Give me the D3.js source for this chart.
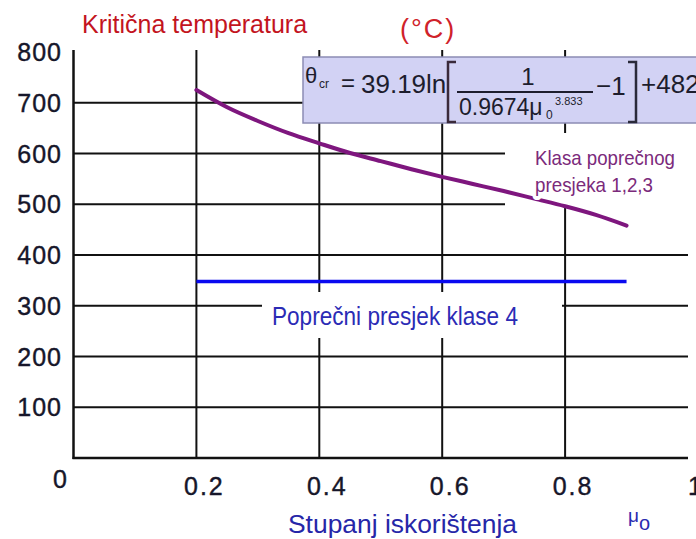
<!DOCTYPE html>
<html>
<head>
<meta charset="utf-8">
<script src="https://cdn.jsdelivr.net/npm/d3@7"></script>
<style>
  body { margin: 0; background: #fff; }
  svg text { font-family: "Liberation Sans", Arial, sans-serif; }
</style>
</head>
<body>
<svg id="chart" width="696" height="539"></svg>
<script>
// values
const muValues = [0.2, 0.25, 0.3, 0.35, 0.4, 0.45, 0.5, 0.55, 0.6, 0.65, 0.7, 0.75, 0.8, 0.85, 0.9];
const thetaClass123 = [725, 691, 664, 640, 620, 601, 585, 569, 554, 540, 526, 511, 496, 479, 458];
const muClass4 = [0.2, 0.9];
const thetaClass4 = [348, 348];
const yTicks = [100, 200, 300, 400, 500, 600, 700, 800];
const xTicks = [0, 0.2, 0.4, 0.6, 0.8, 1];
const xTickLabels = ["0", "0.2", "0.4", "0.6", "0.8", "1"];

const svg = d3.select("#chart");

const x = d3.scaleLinear().domain([0, 1]).range([73.5, 688]);
const y = d3.scaleLinear().domain([0, 800]).range([458, 52]);

const ink = "#111";

// grid
const grid = svg.append("g");
grid.selectAll(".hgrid")
  .data(yTicks.filter(v => v < 800))
  .enter()
  .append("line")
  .attr("x1", x(0))
  .attr("x2", x(1))
  .attr("y1", d => y(d))
  .attr("y2", d => y(d))
  .attr("stroke", ink)
  .attr("stroke-width", 2);

grid.selectAll(".vgrid")
  .data(xTicks.filter(v => v > 0 && v < 1))
  .enter()
  .append("line")
  .attr("x1", d => x(d))
  .attr("x2", d => x(d))
  .attr("y1", y(800) - 2)
  .attr("y2", y(0))
  .attr("stroke", ink)
  .attr("stroke-width", 2);

// axes
svg.append("line")
  .attr("x1", x(0)).attr("x2", x(0))
  .attr("y1", y(800) - 2).attr("y2", y(0) + 1)
  .attr("stroke", ink).attr("stroke-width", 2.5);
svg.append("line")
  .attr("x1", x(0) - 1).attr("x2", x(1))
  .attr("y1", y(0)).attr("y2", y(0))
  .attr("stroke", ink).attr("stroke-width", 2.5);

// white backgrounds of the in-plot labels
svg.append("rect")
  .attr("x", 505).attr("y", 133).attr("width", 191).attr("height", 73)
  .attr("fill", "#fff");
svg.append("rect")
  .attr("x", 262).attr("y", 292).attr("width", 300).attr("height", 46)
  .attr("fill", "#fff");

// formula box
const fb = svg.append("g");
fb.append("rect")
  .attr("x", 303).attr("y", 57).attr("width", 400).attr("height", 66)
  .attr("fill", "#d2d2f4").attr("stroke", "#8c8cb4").attr("stroke-width", 1.5);
const fcol = "#1d1d2d";
fb.append("text").attr("x", 305).attr("y", 83).attr("font-size", 22).attr("fill", fcol).text("θ");
fb.append("text").attr("x", 319).attr("y", 88).attr("font-size", 12).attr("fill", fcol).text("cr");
fb.append("text").attr("x", 341).attr("y", 91).attr("font-size", 24).attr("fill", fcol).text("=");
fb.append("text").attr("x", 361).attr("y", 93).attr("font-size", 26).attr("fill", fcol).text("39.19ln");
fb.append("text").attr("x", 528).attr("y", 85).attr("font-size", 24).attr("fill", fcol)
  .attr("text-anchor", "middle").text("1");
fb.append("line").attr("x1", 457).attr("x2", 593).attr("y1", 92).attr("y2", 92)
  .attr("stroke", fcol).attr("stroke-width", 2);
fb.append("text").attr("x", 459).attr("y", 115).attr("font-size", 23).attr("fill", fcol).text("0.9674μ");
fb.append("text").attr("x", 555).attr("y", 105).attr("font-size", 11).attr("fill", fcol).text("3.833");
fb.append("text").attr("x", 546).attr("y", 119).attr("font-size", 12).attr("fill", fcol).text("0");
fb.append("text").attr("x", 596).attr("y", 95).attr("font-size", 26).attr("fill", fcol).text("−1");
fb.append("text").attr("x", 641).attr("y", 93).attr("font-size", 26).attr("fill", fcol).text("+482");
const bracket = (x0, dir) => `M${x0 + dir * 8},62 H${x0} V122 H${x0 + dir * 8}`;
fb.append("path").attr("d", bracket(448, 1)).attr("fill", "none")
  .attr("stroke", "#3a2a3a").attr("stroke-width", 2.5);
fb.append("path").attr("d", bracket(636, -1)).attr("fill", "none")
  .attr("stroke", "#2a2a3a").attr("stroke-width", 2.5);

// series
const line = d3.line()
  .x(d => x(d[0]))
  .y(d => y(d[1]))
  .curve(d3.curveMonotoneX);

svg.append("path")
  .datum(muValues.map((m, i) => [m, thetaClass123[i]]))
  .attr("d", line)
  .attr("fill", "none")
  .attr("stroke", "#7e167e")
  .attr("stroke-width", 4)
  .attr("stroke-linecap", "round");

svg.append("path")
  .datum(muClass4.map((m, i) => [m, thetaClass4[i]]))
  .attr("d", line)
  .attr("fill", "none")
  .attr("stroke", "#0a0af0")
  .attr("stroke-width", 3.5);

// in-plot labels
const purple = "#7b2a7b";
svg.append("text")
  .attr("x", 535).attr("y", 165)
  .attr("font-size", 21).attr("fill", purple)
  .attr("textLength", 140).attr("lengthAdjust", "spacingAndGlyphs")
  .text("Klasa poprečnog");
svg.append("text")
  .attr("x", 535).attr("y", 192)
  .attr("font-size", 21).attr("fill", purple)
  .attr("textLength", 118).attr("lengthAdjust", "spacingAndGlyphs")
  .attr("stroke", "#fff").attr("stroke-width", 8).attr("paint-order", "stroke")
  .attr("stroke-linejoin", "round")
  .text("presjeka 1,2,3");

svg.append("text")
  .attr("x", 272).attr("y", 325)
  .attr("font-size", 25).attr("fill", "#2b2bb5")
  .attr("textLength", 246).attr("lengthAdjust", "spacingAndGlyphs")
  .text("Poprečni presjek klase 4");

// tick labels
const tickCol = "#16162a";
svg.selectAll(".ylab")
  .data(yTicks)
  .enter()
  .append("text")
  .attr("x", 62)
  .attr("y", d => y(d))
  .attr("dy", "0.36em")
  .attr("text-anchor", "end")
  .attr("font-size", 25)
  .attr("letter-spacing", 1)
  .attr("fill", tickCol)
  .attr("stroke", tickCol)
  .attr("stroke-width", 0.4)
  .text(d => d);

svg.selectAll(".xlab")
  .data(xTicks)
  .enter()
  .append("text")
  .attr("x", d => (d === 0 ? 61 : x(d) + 8))
  .attr("y", d => (d === 0 ? 488 : 495))
  .attr("text-anchor", "middle")
  .attr("font-size", 25)
  .attr("letter-spacing", 2)
  .attr("fill", tickCol)
  .attr("stroke", tickCol)
  .attr("stroke-width", 0.4)
  .text((d, i) => xTickLabels[i]);

// titles
svg.append("text")
  .attr("x", 82).attr("y", 33)
  .attr("font-size", 25).attr("fill", "#c3141e")
  .text("Kritična temperatura");
svg.append("text")
  .attr("x", 400).attr("y", 38)
  .attr("font-size", 27).attr("letter-spacing", 2).attr("fill", "#d0222a")
  .text("(°C)");

svg.append("text")
  .attr("x", 288).attr("y", 533)
  .attr("font-size", 26).attr("fill", "#2626a8")
  .attr("textLength", 229).attr("lengthAdjust", "spacingAndGlyphs")
  .text("Stupanj iskorištenja");

const mu = svg.append("text")
  .attr("x", 628).attr("y", 522)
  .attr("font-size", 19).attr("fill", "#2a2ab0");
mu.append("tspan").text("μ");
mu.append("tspan").attr("dy", 8).attr("font-size", 20).text("o");
</script>
</body>
</html>
